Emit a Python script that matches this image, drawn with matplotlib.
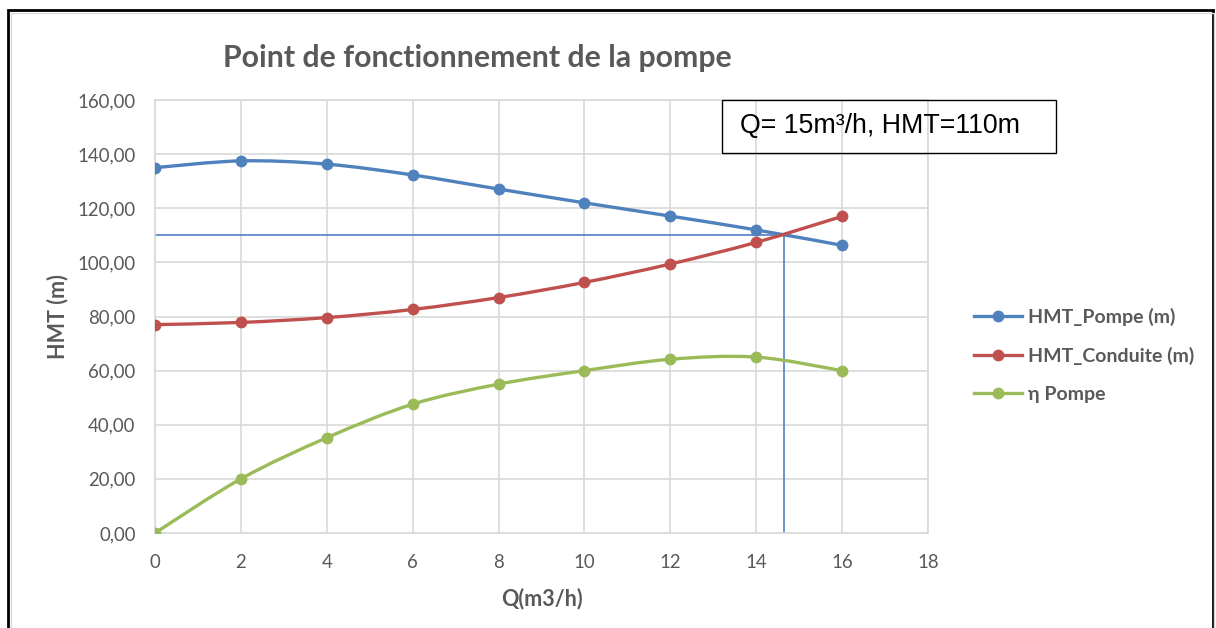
import numpy as np
import matplotlib.pyplot as plt
from matplotlib.path import Path
from matplotlib.patches import PathPatch, Rectangle

# données
Q = [0, 2, 4, 6, 8, 10, 12, 14, 16]
hmt_pompe = [135, 137.5, 136.3, 132.3, 127.1, 122, 117.1, 112, 106.3]
hmt_conduite = [77, 77.8, 79.6, 82.6, 87, 92.6, 99.4, 107.4, 117]
eta_pompe = [0, 20, 35.2, 47.6, 55, 60, 64.2, 65, 60]
Q_fonct = 14.65
hmt_fonct = 110

labels = ['HMT_Pompe (m)', 'HMT_Conduite (m)', 'η Pompe']
colors = ['#4F81BD', '#C0504D', '#9BBB59']
gris = '#595959'

plt.rcParams['font.family'] = ['Lato', 'DejaVu Sans']


def lisse(ax, x, y, color):
    # courbe lissée façon Excel (Bézier, Catmull-Rom)
    x = np.asarray(x, float)
    y = np.asarray(y, float)
    pts = np.column_stack([x, y])
    verts = [pts[0]]
    codes = [Path.MOVETO]
    n = len(pts)
    for i in range(n - 1):
        p0 = pts[i - 1] if i > 0 else pts[i]
        p1 = pts[i]
        p2 = pts[i + 1]
        p3 = pts[i + 2] if i + 2 < n else pts[i + 1]
        c1 = p1 + (p2 - p0) / 6
        c2 = p2 - (p3 - p1) / 6
        verts += [c1, c2, p2]
        codes += [Path.CURVE4] * 3
    ax.add_patch(PathPatch(Path(verts, codes), fill=False, edgecolor=color, lw=2.4, zorder=3))


fig = plt.figure(figsize=(12.16, 6.28), dpi=100)
ax = fig.add_axes([155 / 1216, 1 - 533 / 628, 773 / 1216, 433 / 628])

for ys, lab, c in zip([hmt_pompe, hmt_conduite, eta_pompe], labels, colors):
    lisse(ax, Q, ys, c)
    ax.plot(Q, ys, color=c, lw=2.4, marker='o', ms=7.5, linestyle='none', zorder=4)
    ax.plot([], [], color=c, lw=2.4, marker='o', ms=7.5, label=lab)

# point de fonctionnement
ax.plot([0, Q_fonct], [hmt_fonct, hmt_fonct], color='#4472C4', lw=1.1, zorder=2)
ax.plot([Q_fonct, Q_fonct], [0, hmt_fonct], color='#4472C4', lw=1.1, zorder=2)

ax.set_xlim(0, 18)
ax.set_ylim(0, 160)
ax.set_xticks(np.arange(0, 19, 2))
ax.set_yticks(np.arange(0, 161, 20))
ax.set_yticklabels(['{:.2f}'.format(v).replace('.', ',') for v in np.arange(0, 161, 20)])
ax.grid(True, color='#d9d9d9', lw=1.2)
ax.set_axisbelow(True)
for s in ax.spines.values():
    s.set_color('#d9d9d9')
    s.set_linewidth(1.2)
ax.tick_params(length=0, labelsize=13.4, colors=gris)
ax.tick_params(axis='x', pad=15)
ax.tick_params(axis='y', pad=14)

ax.set_xlabel('Q(m3/h)', fontsize=15.5, fontweight='bold', color=gris, labelpad=12)
ax.set_ylabel('HMT (m)', fontsize=15.5, fontweight='bold', color=gris)
ax.yaxis.set_label_coords((68 - 155) / 773, 0.5)

fig.text(477 / 1216, 1 - 58 / 628, 'Point de fonctionnement de la pompe', ha='center', va='center',
         fontsize=21.8, fontweight='bold', color=gris)

fig.text(880 / 1216, 1 - 126 / 628, 'Q= 15m³/h, HMT=110m', ha='center', va='center',
         fontsize=19.3, family='Liberation Sans', color='black')
fig.add_artist(Rectangle((722 / 1216, 1 - 153 / 628), 334 / 1216, 53 / 628, transform=fig.transFigure,
                         fill=False, edgecolor='black', lw=1))

leg = ax.legend(loc='center left', bbox_to_anchor=(956 / 1216, 1 - 355 / 628), bbox_transform=fig.transFigure,
                frameon=False, handlelength=2.5, handletextpad=0.3, labelspacing=1.08,
                prop={'size': 14, 'weight': 'bold'})
for t in leg.get_texts():
    t.set_color(gris)

# cadre
fig.add_artist(Rectangle((8 / 1216, -0.01), 1205 / 1216, 1 - 10 / 628 + 0.01, transform=fig.transFigure,
                         fill=False, edgecolor='black', lw=2))
fig.add_artist(Rectangle((11 / 1216, -0.01), 1203 / 1216, 1 - 13 / 628 + 0.01, transform=fig.transFigure,
                         fill=False, edgecolor='#d9d9d9', lw=1))

fig.savefig('out.png', dpi=100)
